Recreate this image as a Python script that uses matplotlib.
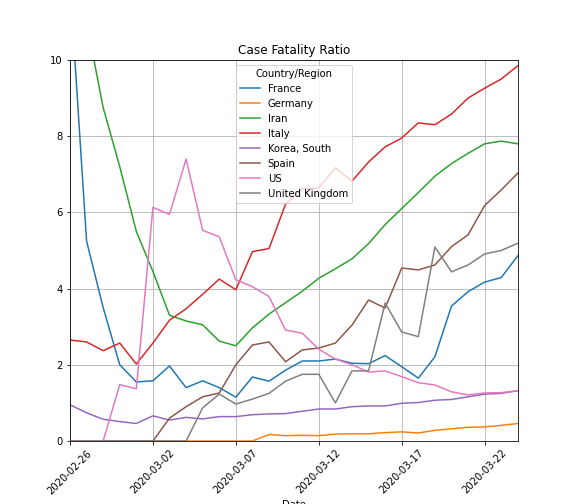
import matplotlib
matplotlib.use('Agg')
import matplotlib.pyplot as plt
import matplotlib.dates as mdates
import numpy as np
import pandas as pd

dates = pd.date_range('2020-02-26', '2020-03-24')

france = [12.0, 5.25, 3.5, 2.0, 1.55, 1.58, 1.97, 1.4, 1.58, 1.4, 1.15, 1.68, 1.57, 1.86,
          2.1, 2.1, 2.15, 2.04, 2.03, 2.24, 1.95, 1.65, 2.21, 3.54, 3.92, 4.17, 4.29, 4.86]
germany = [0, 0, 0, 0, 0, 0, 0, 0, 0, 0, 0, 0, 0.17, 0.14,
           0.15, 0.14, 0.18, 0.19, 0.19, 0.22, 0.24, 0.21, 0.28, 0.32, 0.36, 0.37, 0.41, 0.46]
iran = [16.0, 11.0, 8.75, 7.2, 5.5, 4.45, 3.3, 3.15, 3.05, 2.62, 2.5, 2.97, 3.33, 3.63,
        3.93, 4.27, 4.52, 4.78, 5.18, 5.68, 6.1, 6.52, 6.95, 7.28, 7.55, 7.8, 7.87, 7.8]
italy = [2.65, 2.6, 2.37, 2.57, 2.02, 2.57, 3.17, 3.47, 3.85, 4.25, 3.97, 4.97, 5.05, 6.22,
         6.62, 6.64, 7.17, 6.82, 7.32, 7.72, 7.95, 8.35, 8.3, 8.58, 9.0, 9.26, 9.5, 9.85]
korea = [0.95, 0.74, 0.57, 0.51, 0.46, 0.66, 0.55, 0.62, 0.58, 0.64, 0.64, 0.69, 0.71, 0.72,
         0.78, 0.84, 0.84, 0.9, 0.92, 0.92, 0.99, 1.01, 1.07, 1.09, 1.16, 1.23, 1.25, 1.32]
spain = [0, 0, 0, 0, 0, 0, 0.6, 0.9, 1.16, 1.26, 2.0, 2.52, 2.6, 2.08,
         2.39, 2.44, 2.57, 3.04, 3.7, 3.49, 4.54, 4.49, 4.62, 5.1, 5.41, 6.18, 6.59, 7.03]
us = [0, 0, 0, 1.48, 1.37, 6.13, 5.95, 7.4, 5.53, 5.36, 4.23, 4.05, 3.79, 2.91,
      2.83, 2.41, 2.15, 2.0, 1.81, 1.84, 1.69, 1.53, 1.47, 1.29, 1.21, 1.26, 1.27, 1.32]
uk = [0, 0, 0, 0, 0, 0, 0, 0, 0.87, 1.23, 0.97, 1.1, 1.25, 1.57,
      1.75, 1.75, 1.0, 1.84, 1.84, 3.62, 2.86, 2.74, 5.09, 4.44, 4.62, 4.91, 5.0, 5.19]

series = [('France', france), ('Germany', germany), ('Iran', iran), ('Italy', italy),
          ('Korea, South', korea), ('Spain', spain), ('US', us), ('United Kingdom', uk)]

fig = plt.figure(figsize=(8, 7), dpi=72)
ax = fig.add_axes([0.1215, 0.125, 0.7775, 0.756])
for name, vals in series:
    ax.plot(dates, vals, label=name)

ax.set_ylim(0, 10)
ax.set_xlim(dates[0], dates[-1])
ax.xaxis.set_major_locator(mdates.DayLocator(bymonthday=[26, 2, 7, 12, 17, 22]))
ax.xaxis.set_major_formatter(mdates.DateFormatter('%Y-%m-%d'))
plt.setp(ax.get_xticklabels(), rotation=45)
ax.grid(True)
ax.set_title('Case Fatality Ratio')
ax.set_xlabel('Date')
ax.legend(title='Country/Region', loc='upper center')
fig.savefig('out.png')
